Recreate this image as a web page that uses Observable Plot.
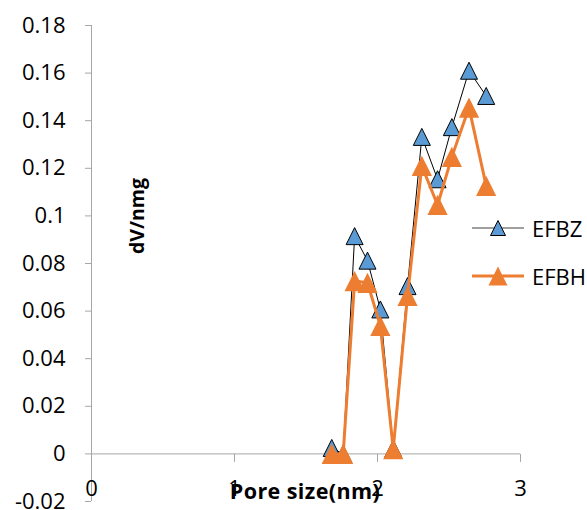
<!DOCTYPE html>
<html><head><meta charset="utf-8">
<script src="https://cdn.jsdelivr.net/npm/d3@7"></script>
<script src="https://cdn.jsdelivr.net/npm/@observablehq/plot@0.6"></script>
<style>
body{margin:0;background:#fff;}
#wrap{position:relative;width:587px;height:510px;overflow:hidden;font-family:"Open Sans",sans-serif;color:#000;}
#wrap svg{overflow:visible;}
.ytitle{position:absolute;left:137px;top:216px;transform:translate(-50%,-50%) rotate(-90deg);font-weight:bold;font-size:19.5px;white-space:nowrap;line-height:1;}
.xtitle{position:absolute;left:305px;top:491px;transform:translate(-50%,-50%);font-weight:bold;font-size:21.5px;letter-spacing:0.4px;white-space:nowrap;line-height:1;}
.legend{position:absolute;left:472px;top:0;}
.legend .row{position:absolute;left:0;display:flex;align-items:center;height:30px;}
.legend .row span{font-size:22px;margin-left:7px;line-height:1;}
</style></head><body>
<div id="wrap"></div>
<script>
// Data
const poreSize = [1.68, 1.76, 1.84, 1.93, 2.02, 2.11, 2.21, 2.31, 2.42, 2.52, 2.64, 2.76];
const efbz = [0.0025, 0, 0.0915, 0.0812, 0.0607, 0.0022, 0.0705, 0.1332, 0.1154, 0.1373, 0.161, 0.1504];
const efbh = [0, 0, 0.0726, 0.0719, 0.0538, 0.002, 0.0664, 0.121, 0.1046, 0.1248, 0.1455, 0.1126];
const seriesNames = ["EFBZ", "EFBH"];
const xTicks = [0, 1, 2, 3];
const yTicks = [-0.02, 0, 0.02, 0.04, 0.06, 0.08, 0.1, 0.12, 0.14, 0.16, 0.18];
const xTitle = "Pore size(nm)";
const yTitle = "dV/nmg";

const blue = "#5b9bd5", orange = "#ed7d31", axisGray = "#a6a6a6";

const dataZ = poreSize.map((s, i) => ({size: s, v: efbz[i]}));
const dataH = poreSize.map((s, i) => ({size: s, v: efbh[i]}));

// Excel-like triangle marker (width == height, centered on bbox)
const tri = {draw(ctx, size) { const w = Math.sqrt(size); ctx.moveTo(0, -w / 2); ctx.lineTo(w / 2, w / 2); ctx.lineTo(-w / 2, w / 2); ctx.closePath(); }};
const tickDown = {draw(ctx) { ctx.moveTo(0, 0); ctx.lineTo(0, 8); }};

const fmt = d => String(+d.toFixed(2));

const chart = Plot.plot({
  width: 587, height: 510,
  marginTop: 25, marginBottom: 9, marginLeft: 91, marginRight: 67,
  style: "font-family:'Open Sans',sans-serif;font-size:22px;background:#fff;overflow:visible;",
  x: {domain: [0, 3], axis: null, label: null},
  y: {domain: [-0.02, 0.18], label: null},
  marks: [
    Plot.ruleX([0], {stroke: axisGray, strokeWidth: 1}),
    Plot.ruleY([0], {stroke: axisGray, strokeWidth: 1}),
    Plot.dot(xTicks, {x: d => d, y: 0, symbol: tickDown, r: 1, stroke: axisGray, fill: "none", strokeWidth: 1}),
    Plot.axisY({ticks: yTicks, tickSize: 6, tickPadding: 20, tickFormat: fmt, stroke: axisGray, fill: "#000", fontSize: 22, label: null}),
    Plot.text(xTicks, {x: d => d, text: d => String(d), frameAnchor: "bottom", dy: -13, lineAnchor: "middle", fontSize: 22, fill: "#000"}),
    Plot.line(dataZ, {x: "size", y: "v", stroke: "#000", strokeWidth: 1}),
    Plot.dot(dataZ, {x: "size", y: "v", symbol: tri, r: 9.6, fill: blue, stroke: "#000", strokeWidth: 1}),
    Plot.line(dataH, {x: "size", y: "v", stroke: orange, strokeWidth: 3, strokeLinejoin: "round"}),
    Plot.dot(dataH, {x: "size", y: "v", symbol: tri, r: 11.4, fill: orange, stroke: "none"})
  ]
});

const wrap = document.getElementById("wrap");
wrap.appendChild(chart);

const yt = document.createElement("div"); yt.className = "ytitle"; yt.textContent = yTitle; wrap.appendChild(yt);
const xt = document.createElement("div"); xt.className = "xtitle"; xt.textContent = xTitle; wrap.appendChild(xt);

// Legend
const legend = document.createElement("div"); legend.className = "legend";
const legendStyles = [
  {line: "#7f7f7f", lw: 1.5, fill: blue, stroke: "#000", w: 15, top: 213},
  {line: orange, lw: 3, fill: orange, stroke: "none", w: 19, top: 261}
];
seriesNames.forEach((name, i) => {
  const st = legendStyles[i];
  const row = document.createElement("div"); row.className = "row"; row.style.top = st.top + "px";
  const h = 30, cx = 26, cy = 15, w = st.w;
  row.innerHTML = `<svg width="53" height="${h}" style="overflow:visible"><line x1="0" x2="52" y1="${cy}" y2="${cy}" stroke="${st.line}" stroke-width="${st.lw}"/><path d="M${cx},${cy - w / 2}L${cx + w / 2},${cy + w / 2}L${cx - w / 2},${cy + w / 2}Z" fill="${st.fill}" stroke="${st.stroke}" stroke-width="1"/></svg><span>${name}</span>`;
  legend.appendChild(row);
});
wrap.appendChild(legend);
</script>
</body></html>
